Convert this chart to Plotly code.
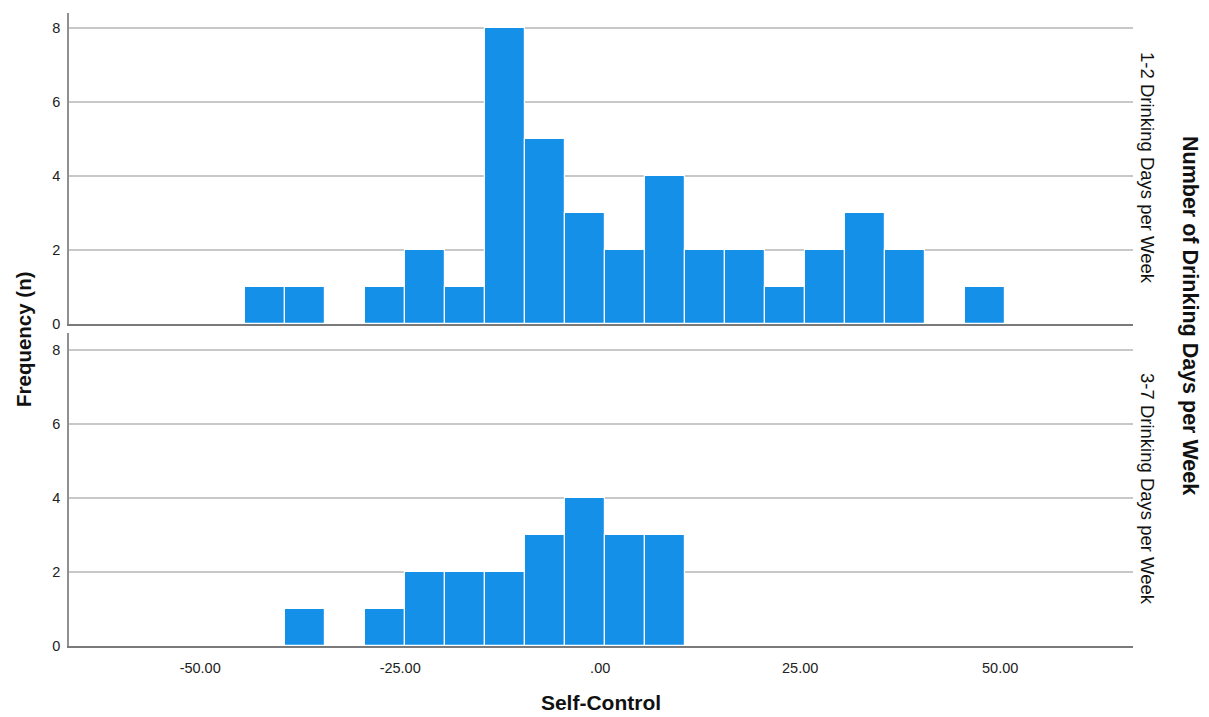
import plotly.graph_objects as go

# Bin centers (Self-Control), bin width ~5
bin_centers = [-41.9, -36.9, -31.9, -26.9, -21.9, -16.9, -11.9, -6.9, -1.9, 3.1,
               8.1, 13.1, 18.1, 23.1, 28.1, 33.1, 38.1, 43.1, 48.1]
bin_width = 5.0
counts_1_2 = [1, 1, 0, 1, 2, 1, 8, 5, 3, 2, 4, 2, 2, 1, 2, 3, 2, 0, 1]
counts_3_7 = [0, 1, 0, 1, 2, 2, 2, 3, 4, 3, 3, 0, 0, 0, 0, 0, 0, 0, 0]
panel_labels = ["1-2 Drinking Days per Week", "3-7 Drinking Days per Week"]
x_ticks = [-50, -25, 0, 25, 50]
x_tick_text = ["-50.00", "-25.00", ".00", "25.00", "50.00"]
y_ticks = [0, 2, 4, 6, 8]

BAR = "#1490e8"
FONT = "Arial, Liberation Sans, sans-serif"

fig = go.Figure()
fig.add_trace(go.Bar(x=bin_centers, y=counts_1_2, width=[bin_width] * len(bin_centers),
                     marker=dict(color=BAR, line=dict(color="white", width=1.2)),
                     xaxis="x", yaxis="y", showlegend=False))
fig.add_trace(go.Bar(x=bin_centers, y=counts_3_7, width=[bin_width] * len(bin_centers),
                     marker=dict(color=BAR, line=dict(color="white", width=1.2)),
                     xaxis="x2", yaxis="y2", showlegend=False))

xr = [-66.4, 66.6]
common_x = dict(range=xr, showgrid=False, zeroline=False, showline=True,
                linecolor="#7a7a7a", linewidth=1.5, ticks="outside", ticklen=8,
                tickcolor="rgba(0,0,0,0)", automargin=False,
                tickvals=x_ticks, ticktext=x_tick_text,
                tickfont=dict(family=FONT, size=14.5, color="#222"))
fig.update_layout(
    xaxis=dict(common_x, anchor="y", showticklabels=False, ticks=""),
    xaxis2=dict(common_x, anchor="y2", matches="x",
                title=dict(text="<b>Self-Control</b>", font=dict(family=FONT, size=21, color="#111"),
                           standoff=20)),
)
common_y = dict(showgrid=True, gridcolor="#c8c8c8", gridwidth=1.5, zeroline=False,
                showline=True, linecolor="#909090", linewidth=1.5, automargin=False,
                ticks="outside", ticklen=4, tickcolor="rgba(0,0,0,0)",
                tickvals=y_ticks, tickfont=dict(family=FONT, size=14.5, color="#222"))
fig.update_layout(
    yaxis=dict(common_y, domain=[0.5087, 1.0], range=[0, 8.41], anchor="x"),
    yaxis2=dict(common_y, domain=[0.0, 0.4945], range=[0, 8.46], anchor="x2"),
)

W, H = 1209, 717
L, R, T, B = 69, 76, 13, 71
pw, ph = W - L - R, H - T - B

def px2paper(x, y):
    return (x - L) / pw, (H - B - y) / ph

def add_text(text, px, py, angle, size):
    xx, yy = px2paper(px, py)
    fig.add_annotation(text=text, x=xx, y=yy, xref="paper", yref="paper",
                       xanchor="center", yanchor="middle", showarrow=False,
                       textangle=angle, font=dict(family=FONT, size=size, color="#111"))

add_text(panel_labels[0], 1148, 168, 90, 18.5)
add_text(panel_labels[1], 1148, 489, 90, 18.5)
add_text("<b>Number of Drinking Days per Week</b>", 1190, 315, 90, 21.5)
add_text("<b>Frequency (n)</b>", 23, 339, -90, 20.5)

fig.update_layout(
    width=W, height=H, autosize=False,
    margin=dict(l=L, r=R, t=T, b=B, autoexpand=False),
    paper_bgcolor="white", plot_bgcolor="white",
    bargap=0, showlegend=False,
)
fig.write_html("out.html")
